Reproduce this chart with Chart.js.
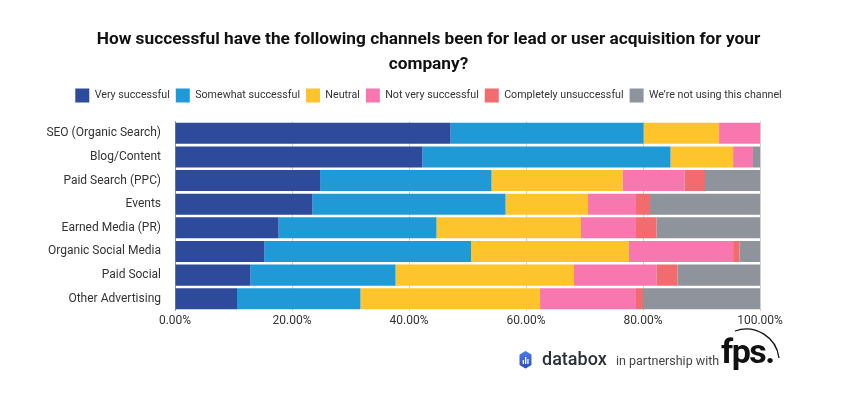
<!DOCTYPE html>
<html>
<head>
<meta charset="utf-8">
<script src="https://cdn.jsdelivr.net/npm/chart.js@4/dist/chart.umd.min.js"></script>
<style>
  html, body { margin: 0; padding: 0; background: #fff; }
  #wrap { position: relative; width: 850px; height: 400px; }
  #logo { position: absolute; left: 0; top: 0; width: 850px; height: 400px; font-family: Roboto, sans-serif; pointer-events: none; }
  #db { position: absolute; left: 542px; top: 348px; font-size: 18px; font-weight: 500; color: #2b2f3a; line-height: 22px; }
  #ip { position: absolute; left: 616px; top: 353px; font-size: 12.5px; color: #444; line-height: 16px; }
  #fps { position: absolute; left: 721px; top: 331px; font-size: 34px; font-weight: 700; color: #111; letter-spacing: -1.5px; line-height: 40px; }
  svg { position: absolute; left: 0; top: 0; }
</style>
</head>
<body>
<div id="wrap">
  <canvas id="c" width="850" height="400"></canvas>
  <div id="logo">
    <svg width="850" height="400">
      <defs><linearGradient id="g" x1="0" y1="0" x2="0" y2="1"><stop offset="0" stop-color="#4a7ae8"/><stop offset="1" stop-color="#2d4fc4"/></linearGradient></defs>
      <path d="M525.5 352 L530.5 355 L530.5 364.5 L525.5 367.5 L520.5 364.5 L520.5 355 Z" fill="url(#g)" stroke="url(#g)" stroke-width="2" stroke-linejoin="round"/>
      <rect x="522.7" y="360" width="1.3" height="4" fill="#fff"/>
      <rect x="525" y="357" width="1.3" height="7" fill="#fff"/>
      <rect x="527.3" y="359" width="1.3" height="5" fill="#fff"/>
      <path d="M735 331 A 33 33 0 0 1 779 358" fill="none" stroke="#111" stroke-width="1.3"/>
    </svg>
    <div id="db">databox</div>
    <div id="ip">in partnership with</div>
    <div id="fps">fps.</div>
  </div>
</div>
<script>
const titleLines = ["How successful have the following channels been for lead or user acquisition for your", "company?"];
const categories = ["SEO (Organic Search)", "Blog/Content", "Paid Search (PPC)", "Events", "Earned Media (PR)", "Organic Social Media", "Paid Social", "Other Advertising"];
const seriesNames = ["Very successful", "Somewhat successful", "Neutral", "Not very successful", "Completely unsuccessful", "We\u2019re not using this channel"];
const verySuccessful      = [47.1, 42.3, 24.8, 23.5, 17.7, 15.3, 12.9, 10.6];
const somewhatSuccessful  = [33.0, 42.4, 29.3, 33.0, 27.0, 35.3, 24.8, 21.1];
const neutral             = [12.9, 10.7, 22.4, 14.1, 24.7, 27.0, 30.5, 30.7];
const notVerySuccessful   = [7.0, 3.4, 10.6, 8.2, 9.4, 17.8, 14.1, 16.4];
const completelyUnsuccessful = [0, 0, 3.5, 2.4, 3.5, 1.1, 3.6, 1.2];
const notUsing            = [0, 1.2, 9.4, 18.8, 17.7, 3.5, 14.1, 20.0];
const xTicks = [0, 20, 40, 60, 80, 100];

const colors = ["#2e4a9a", "#1f9ad6", "#fdc42c", "#f877af", "#f26b6e", "#8f939b"];
const seriesData = [verySuccessful, somewhatSuccessful, neutral, notVerySuccessful, completelyUnsuccessful, notUsing];

const legendMargin = {
  id: 'legendMargin',
  beforeInit(chart) {
    const orig = chart.legend.fit;
    chart.legend.fit = function () { orig.call(this); this.height += 9; };
  }
};

new Chart(document.getElementById('c'), {
  type: 'bar',
  data: {
    labels: categories,
    datasets: seriesNames.map((n, i) => ({
      label: n,
      data: seriesData[i],
      backgroundColor: colors[i],
      borderWidth: 0,
      barPercentage: 0.89,
      categoryPercentage: 1.0
    }))
  },
  plugins: [legendMargin],
  options: {
    indexAxis: 'y',
    responsive: false,
    animation: false,
    layout: { padding: { left: 7, right: 0, top: 10, bottom: 69 } },
    plugins: {
      title: {
        display: true,
        text: titleLines,
        color: '#111',
        font: { family: 'Roboto', size: 17.3, weight: 'bold', lineHeight: 1.4 },
        padding: { top: 18, bottom: 6 }
      },
      legend: {
        position: 'top',
        labels: {
          color: '#333',
          font: { family: 'Roboto', size: 10.7 },
          boxWidth: 14,
          boxHeight: 14,
          padding: 6
        }
      },
      tooltip: { enabled: false }
    },
    scales: {
      x: {
        stacked: true,
        min: 0,
        max: 100,
        afterFit: (s) => { s.paddingRight = 90; },
        ticks: {
          stepSize: 20,
          color: '#333',
          font: { family: 'Roboto', size: 12 },
          callback: (v) => xTicks.includes(v) ? v.toFixed(2) + '%' : ''
        },
        grid: { color: '#d0d0d0', drawTicks: false },
        border: { display: false }
      },
      y: {
        stacked: true,
        afterFit: (s) => { s.width = 168; },
        ticks: { color: '#333', font: { family: 'Roboto', size: 12 }, padding: 6 },
        grid: { display: false },
        border: { display: true, color: '#999' }
      }
    }
  }
});
</script>
</body>
</html>
